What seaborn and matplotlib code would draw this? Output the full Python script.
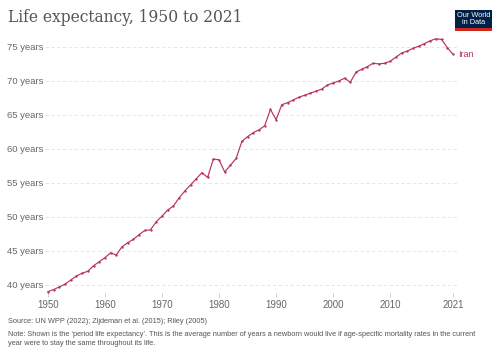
import matplotlib
matplotlib.use("Agg")
import matplotlib.pyplot as plt
import seaborn as sns
import pandas as pd
from matplotlib.patches import Rectangle

# data (Iran, period life expectancy)
years = list(range(1950, 2022))
life_exp = [
    39.0, 39.3, 39.7, 40.1, 40.7, 41.3, 41.7, 42.0, 42.8, 43.4,
    44.0, 44.7, 44.4, 45.6, 46.2, 46.7, 47.4, 48.0, 48.1, 49.3,
    50.1, 51.0, 51.6, 52.8, 53.8, 54.7, 55.6, 56.5, 55.8, 58.5,
    58.4, 56.6, 57.6, 58.6, 61.1, 61.8, 62.4, 62.8, 63.4, 65.8,
    64.3, 66.5, 66.8, 67.2, 67.6, 67.9, 68.2, 68.5, 68.8, 69.4,
    69.7, 70.0, 70.4, 69.8, 71.3, 71.7, 72.1, 72.6, 72.5, 72.6,
    72.9, 73.5, 74.1, 74.4, 74.8, 75.1, 75.5, 75.9, 76.2, 76.1,
    74.9, 73.9,
]
y_ticks = [40, 45, 50, 55, 60, 65, 70, 75]
x_ticks = [1950, 1960, 1970, 1980, 1990, 2000, 2010, 2021]

df = pd.DataFrame({"Year": years, "Life expectancy": life_exp})

sns.set_theme(style="white")
plt.rcParams["font.family"] = ["Liberation Sans", "DejaVu Sans"]

line_color = "#b5345e"

fig = plt.figure(figsize=(5.0, 3.53), dpi=100)
ax = fig.add_axes([0.09, 0.17, 0.824, 0.724])

sns.lineplot(data=df, x="Year", y="Life expectancy", ax=ax, color=line_color,
             linewidth=0.85, marker="o", markersize=1.7, markeredgewidth=0)

ax.set_xlim(1949.5, 2021.7)
ax.set_ylim(38.8, 76.4)
ax.set_yticks(y_ticks)
ax.set_yticklabels([f"{v} years" for v in y_ticks])
ax.set_xticks(x_ticks)
ax.set_xticklabels([str(v) for v in x_ticks])
ax.set_xlabel("")
ax.set_ylabel("")

ax.grid(axis="y", color="#e2e2e2", linestyle=(0, (4, 3)), linewidth=0.6)
for s in ax.spines.values():
    s.set_visible(False)
ax.tick_params(axis="y", length=0, pad=1, labelsize=6.8, labelcolor="#666666")
ax.tick_params(axis="x", length=3, width=0.5, color="#bbbbbb", pad=2,
               labelsize=7, labelcolor="#666666", bottom=True)

ax.text(2021.9, life_exp[-1], "Iran", color=line_color, fontsize=6.5,
        va="center", ha="left", clip_on=False)

fig.text(0.016, 0.95, "Life expectancy, 1950 to 2021", family="DejaVu Serif",
         fontsize=11.2, color="#555555", va="center", ha="left")

# logo
fig.patches.append(Rectangle((0.910, 0.918), 0.074, 0.054, transform=fig.transFigure,
                             facecolor="#002147", edgecolor="none"))
fig.patches.append(Rectangle((0.910, 0.912), 0.074, 0.008, transform=fig.transFigure,
                             facecolor="#ce261e", edgecolor="none"))
fig.text(0.947, 0.945, "Our World\nin Data", color="white", fontsize=5.3,
         ha="center", va="center", linespacing=1.0)

fig.text(0.016, 0.09, "Source: UN WPP (2022); Zijdeman et al. (2015); Riley (2005)",
         fontsize=5.3, color="#555555", va="center", ha="left")
fig.text(0.016, 0.04,
         "Note: Shown is the \u2018period life expectancy\u2019. This is the average number of years a newborn would live if age-specific mortality rates in the current\n"
         "year were to stay the same throughout its life.",
         fontsize=5.3, color="#555555", va="center", ha="left", linespacing=1.3)

fig.savefig("out.png", dpi=100)
